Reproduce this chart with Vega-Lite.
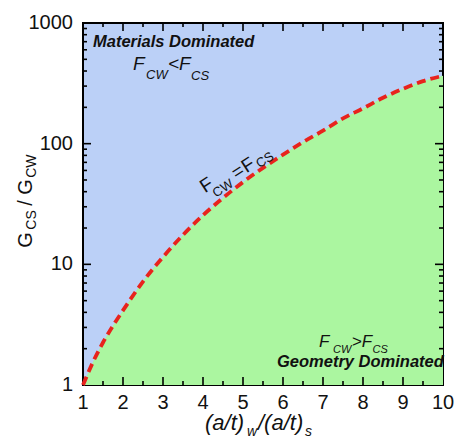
{
  "$schema": "https://vega.github.io/schema/vega-lite/v6.json",
  "width": 360,
  "height": 362,
  "autosize": "none",
  "padding": {"left": 83, "top": 23, "right": 13, "bottom": 55},
  "background": "white",
  "config": {
    "font": "Liberation Sans",
    "view": {"fill": "#bbd0f7", "stroke": "#000000", "strokeWidth": 2},
    "text": {"font": "Liberation Sans", "color": "#111111"},
    "tick": {"color": "#000000", "thickness": 1.6, "opacity": 1}
  },
  "datasets": {
    "curve": [
      {"ratio": 1, "g": 1}, {"ratio": 1.25, "g": 1.55}, {"ratio": 1.5, "g": 2.25}, {"ratio": 1.75, "g": 3.1},
      {"ratio": 2, "g": 4.15}, {"ratio": 2.5, "g": 7.2}, {"ratio": 3, "g": 11.5}, {"ratio": 3.5, "g": 17.5},
      {"ratio": 4, "g": 25.5}, {"ratio": 4.5, "g": 35.5}, {"ratio": 5, "g": 48}, {"ratio": 5.5, "g": 63},
      {"ratio": 6, "g": 81}, {"ratio": 6.5, "g": 103}, {"ratio": 7, "g": 128}, {"ratio": 7.5, "g": 162},
      {"ratio": 8, "g": 196}, {"ratio": 8.5, "g": 240}, {"ratio": 9, "g": 285}, {"ratio": 9.5, "g": 330},
      {"ratio": 10, "g": 365}
    ],
    "xTickValues": [{"v": 1}, {"v": 2}, {"v": 3}, {"v": 4}, {"v": 5}, {"v": 6}, {"v": 7}, {"v": 8}, {"v": 9}, {"v": 10}],
    "yTickValues": [{"v": 1}, {"v": 10}, {"v": 100}, {"v": 1000}],
    "xMajor": [
      {"v": 2, "edge": 1}, {"v": 3, "edge": 1}, {"v": 4, "edge": 1}, {"v": 5, "edge": 1}, {"v": 6, "edge": 1}, {"v": 7, "edge": 1}, {"v": 8, "edge": 1}, {"v": 9, "edge": 1},
      {"v": 2, "edge": 1000}, {"v": 3, "edge": 1000}, {"v": 4, "edge": 1000}, {"v": 5, "edge": 1000}, {"v": 6, "edge": 1000}, {"v": 7, "edge": 1000}, {"v": 8, "edge": 1000}, {"v": 9, "edge": 1000}
    ],
    "xMinor": [
      {"v": 1.5, "edge": 1}, {"v": 2.5, "edge": 1}, {"v": 3.5, "edge": 1}, {"v": 4.5, "edge": 1}, {"v": 5.5, "edge": 1}, {"v": 6.5, "edge": 1}, {"v": 7.5, "edge": 1}, {"v": 8.5, "edge": 1}, {"v": 9.5, "edge": 1},
      {"v": 1.5, "edge": 1000}, {"v": 2.5, "edge": 1000}, {"v": 3.5, "edge": 1000}, {"v": 4.5, "edge": 1000}, {"v": 5.5, "edge": 1000}, {"v": 6.5, "edge": 1000}, {"v": 7.5, "edge": 1000}, {"v": 8.5, "edge": 1000}, {"v": 9.5, "edge": 1000}
    ],
    "yMajor": [{"v": 10, "edge": 1}, {"v": 100, "edge": 1}, {"v": 10, "edge": 10}, {"v": 100, "edge": 10}],
    "yMinor": [
      {"v": 2, "edge": 1}, {"v": 3, "edge": 1}, {"v": 4, "edge": 1}, {"v": 5, "edge": 1}, {"v": 6, "edge": 1}, {"v": 7, "edge": 1}, {"v": 8, "edge": 1}, {"v": 9, "edge": 1},
      {"v": 20, "edge": 1}, {"v": 30, "edge": 1}, {"v": 40, "edge": 1}, {"v": 50, "edge": 1}, {"v": 60, "edge": 1}, {"v": 70, "edge": 1}, {"v": 80, "edge": 1}, {"v": 90, "edge": 1},
      {"v": 200, "edge": 1}, {"v": 300, "edge": 1}, {"v": 400, "edge": 1}, {"v": 500, "edge": 1}, {"v": 600, "edge": 1}, {"v": 700, "edge": 1}, {"v": 800, "edge": 1}, {"v": 900, "edge": 1},
      {"v": 2, "edge": 10}, {"v": 3, "edge": 10}, {"v": 4, "edge": 10}, {"v": 5, "edge": 10}, {"v": 6, "edge": 10}, {"v": 7, "edge": 10}, {"v": 8, "edge": 10}, {"v": 9, "edge": 10},
      {"v": 20, "edge": 10}, {"v": 30, "edge": 10}, {"v": 40, "edge": 10}, {"v": 50, "edge": 10}, {"v": 60, "edge": 10}, {"v": 70, "edge": 10}, {"v": 80, "edge": 10}, {"v": 90, "edge": 10},
      {"v": 200, "edge": 10}, {"v": 300, "edge": 10}, {"v": 400, "edge": 10}, {"v": 500, "edge": 10}, {"v": 600, "edge": 10}, {"v": 700, "edge": 10}, {"v": 800, "edge": 10}, {"v": 900, "edge": 10}
    ],
    "regionNames": [
      {"ratio": 1.25, "g": 635, "label": "Materials Dominated"},
      {"ratio": 5.85, "g": 1.42, "label": "Geometry Dominated"}
    ],
    "topMain": [
      {"ratio": 2.25, "g": 407, "label": "F"},
      {"ratio": 3.125, "g": 407, "label": "<F"}
    ],
    "topSub": [
      {"ratio": 2.575, "g": 343, "label": "CW"},
      {"ratio": 3.7, "g": 336, "label": "CS"}
    ],
    "bottomMain": [
      {"ratio": 6.9, "g": 2.08, "label": "F"},
      {"ratio": 7.72, "g": 2.08, "label": ">F"}
    ],
    "bottomSub": [
      {"ratio": 7.25, "g": 1.84, "label": "CW"},
      {"ratio": 8.24, "g": 1.84, "label": "CS"}
    ],
    "curveMain": [
      {"ratio": 4.09, "g": 45.4, "label": "F"},
      {"ratio": 4.875, "g": 58.5, "label": "="},
      {"ratio": 5.125, "g": 66.5, "label": "F"}
    ],
    "curveSub": [
      {"ratio": 4.5, "g": 42.6, "label": "CW"},
      {"ratio": 5.55, "g": 73.1, "label": "CS"}
    ],
    "yTitleMain": [
      {"ratio": -0.425, "g": 15.9, "label": "G"},
      {"ratio": -0.425, "g": 32.2, "label": "/"},
      {"ratio": -0.425, "g": 43.7, "label": "G"}
    ],
    "yTitleSub": [
      {"ratio": -0.275, "g": 23.3, "label": "CS"},
      {"ratio": -0.275, "g": 65.2, "label": "CW"}
    ],
    "xTitleMain": [
      {"ratio": 4.05, "g": 0.424, "label": "(a/t)"},
      {"ratio": 5.375, "g": 0.424, "label": "/(a/t)"}
    ],
    "xTitleSub": [
      {"ratio": 5.1, "g": 0.378, "label": "w"},
      {"ratio": 6.55, "g": 0.378, "label": "s"}
    ]
  },
  "layer": [
    {
      "data": {"name": "curve"},
      "mark": {"type": "area", "color": "#abf6a0", "interpolate": "monotone"},
      "encoding": {
        "x": {"field": "ratio", "type": "quantitative", "scale": {"domain": [1, 10], "nice": false, "zero": false}, "axis": null},
        "y": {"field": "g", "type": "quantitative", "scale": {"type": "log", "domain": [1, 1000], "nice": false}, "axis": null},
        "y2": {"datum": 1}
      }
    },
    {
      "data": {"name": "curve"},
      "mark": {"type": "line", "color": "#e8231d", "strokeWidth": 3.8, "strokeDash": [9, 5], "interpolate": "monotone"},
      "encoding": {
        "x": {"field": "ratio", "type": "quantitative", "scale": {"domain": [1, 10], "nice": false, "zero": false}, "axis": null},
        "y": {"field": "g", "type": "quantitative", "scale": {"type": "log", "domain": [1, 1000], "nice": false}, "axis": null}
      }
    },
    {
      "data": {"name": "xMajor"},
      "mark": {"type": "tick", "orient": "vertical", "size": 16, "clip": true},
      "encoding": {
        "x": {"field": "v", "type": "quantitative", "scale": {"domain": [1, 10], "nice": false, "zero": false}, "axis": null},
        "y": {"field": "edge", "type": "quantitative", "scale": {"type": "log", "domain": [1, 1000], "nice": false}, "axis": null}
      }
    },
    {
      "data": {"name": "xMinor"},
      "mark": {"type": "tick", "orient": "vertical", "size": 8, "clip": true},
      "encoding": {
        "x": {"field": "v", "type": "quantitative", "scale": {"domain": [1, 10], "nice": false, "zero": false}, "axis": null},
        "y": {"field": "edge", "type": "quantitative", "scale": {"type": "log", "domain": [1, 1000], "nice": false}, "axis": null}
      }
    },
    {
      "data": {"name": "yMajor"},
      "mark": {"type": "tick", "orient": "horizontal", "size": 16, "clip": true},
      "encoding": {
        "y": {"field": "v", "type": "quantitative", "scale": {"type": "log", "domain": [1, 1000], "nice": false}, "axis": null},
        "x": {"field": "edge", "type": "quantitative", "scale": {"domain": [1, 10], "nice": false, "zero": false}, "axis": null}
      }
    },
    {
      "data": {"name": "yMinor"},
      "mark": {"type": "tick", "orient": "horizontal", "size": 8, "clip": true},
      "encoding": {
        "y": {"field": "v", "type": "quantitative", "scale": {"type": "log", "domain": [1, 1000], "nice": false}, "axis": null},
        "x": {"field": "edge", "type": "quantitative", "scale": {"domain": [1, 10], "nice": false, "zero": false}, "axis": null}
      }
    },
    {
      "data": {"name": "xTickValues"},
      "mark": {"type": "text", "fontSize": 20, "align": "center", "baseline": "top", "dy": 8},
      "encoding": {
        "x": {"field": "v", "type": "quantitative", "scale": {"domain": [1, 10], "nice": false, "zero": false}, "axis": null},
        "y": {"datum": 1, "type": "quantitative", "scale": {"type": "log", "domain": [1, 1000], "nice": false}, "axis": null},
        "text": {"field": "v", "type": "quantitative", "format": "d"}
      }
    },
    {
      "data": {"name": "yTickValues"},
      "mark": {"type": "text", "fontSize": 20, "align": "right", "baseline": "middle", "dx": -10},
      "encoding": {
        "x": {"datum": 1, "type": "quantitative", "scale": {"domain": [1, 10], "nice": false, "zero": false}, "axis": null},
        "y": {"field": "v", "type": "quantitative", "scale": {"type": "log", "domain": [1, 1000], "nice": false}, "axis": null},
        "text": {"field": "v", "type": "quantitative", "format": "d"}
      }
    },
    {
      "data": {"name": "regionNames"},
      "mark": {"type": "text", "fontSize": 16.5, "fontWeight": "bold", "fontStyle": "italic", "align": "left", "baseline": "alphabetic"},
      "encoding": {
        "x": {"field": "ratio", "type": "quantitative", "scale": {"domain": [1, 10], "nice": false, "zero": false}, "axis": null},
        "y": {"field": "g", "type": "quantitative", "scale": {"type": "log", "domain": [1, 1000], "nice": false}, "axis": null},
        "text": {"field": "label"}
      }
    },
    {
      "data": {"name": "topMain"},
      "mark": {"type": "text", "fontSize": 19, "fontStyle": "italic", "align": "left", "baseline": "alphabetic"},
      "encoding": {
        "x": {"field": "ratio", "type": "quantitative", "scale": {"domain": [1, 10], "nice": false, "zero": false}, "axis": null},
        "y": {"field": "g", "type": "quantitative", "scale": {"type": "log", "domain": [1, 1000], "nice": false}, "axis": null},
        "text": {"field": "label"}
      }
    },
    {
      "data": {"name": "topSub"},
      "mark": {"type": "text", "fontSize": 13, "fontStyle": "italic", "align": "left", "baseline": "alphabetic"},
      "encoding": {
        "x": {"field": "ratio", "type": "quantitative", "scale": {"domain": [1, 10], "nice": false, "zero": false}, "axis": null},
        "y": {"field": "g", "type": "quantitative", "scale": {"type": "log", "domain": [1, 1000], "nice": false}, "axis": null},
        "text": {"field": "label"}
      }
    },
    {
      "data": {"name": "bottomMain"},
      "mark": {"type": "text", "fontSize": 17, "fontStyle": "italic", "align": "left", "baseline": "alphabetic"},
      "encoding": {
        "x": {"field": "ratio", "type": "quantitative", "scale": {"domain": [1, 10], "nice": false, "zero": false}, "axis": null},
        "y": {"field": "g", "type": "quantitative", "scale": {"type": "log", "domain": [1, 1000], "nice": false}, "axis": null},
        "text": {"field": "label"}
      }
    },
    {
      "data": {"name": "bottomSub"},
      "mark": {"type": "text", "fontSize": 11, "fontStyle": "italic", "align": "left", "baseline": "alphabetic"},
      "encoding": {
        "x": {"field": "ratio", "type": "quantitative", "scale": {"domain": [1, 10], "nice": false, "zero": false}, "axis": null},
        "y": {"field": "g", "type": "quantitative", "scale": {"type": "log", "domain": [1, 1000], "nice": false}, "axis": null},
        "text": {"field": "label"}
      }
    },
    {
      "data": {"name": "curveMain"},
      "mark": {"type": "text", "fontSize": 19, "angle": -33, "align": "center", "baseline": "middle"},
      "encoding": {
        "x": {"field": "ratio", "type": "quantitative", "scale": {"domain": [1, 10], "nice": false, "zero": false}, "axis": null},
        "y": {"field": "g", "type": "quantitative", "scale": {"type": "log", "domain": [1, 1000], "nice": false}, "axis": null},
        "text": {"field": "label"}
      }
    },
    {
      "data": {"name": "curveSub"},
      "mark": {"type": "text", "fontSize": 13, "angle": -33, "align": "center", "baseline": "middle"},
      "encoding": {
        "x": {"field": "ratio", "type": "quantitative", "scale": {"domain": [1, 10], "nice": false, "zero": false}, "axis": null},
        "y": {"field": "g", "type": "quantitative", "scale": {"type": "log", "domain": [1, 1000], "nice": false}, "axis": null},
        "text": {"field": "label"}
      }
    },
    {
      "data": {"name": "yTitleMain"},
      "mark": {"type": "text", "fontSize": 20, "angle": 270, "align": "center", "baseline": "middle"},
      "encoding": {
        "x": {"field": "ratio", "type": "quantitative", "scale": {"domain": [1, 10], "nice": false, "zero": false}, "axis": null},
        "y": {"field": "g", "type": "quantitative", "scale": {"type": "log", "domain": [1, 1000], "nice": false}, "axis": null},
        "text": {"field": "label"}
      }
    },
    {
      "data": {"name": "yTitleSub"},
      "mark": {"type": "text", "fontSize": 14, "angle": 270, "align": "center", "baseline": "middle"},
      "encoding": {
        "x": {"field": "ratio", "type": "quantitative", "scale": {"domain": [1, 10], "nice": false, "zero": false}, "axis": null},
        "y": {"field": "g", "type": "quantitative", "scale": {"type": "log", "domain": [1, 1000], "nice": false}, "axis": null},
        "text": {"field": "label"}
      }
    },
    {
      "data": {"name": "xTitleMain"},
      "mark": {"type": "text", "fontSize": 22, "fontStyle": "italic", "align": "left", "baseline": "alphabetic"},
      "encoding": {
        "x": {"field": "ratio", "type": "quantitative", "scale": {"domain": [1, 10], "nice": false, "zero": false}, "axis": null},
        "y": {"field": "g", "type": "quantitative", "scale": {"type": "log", "domain": [1, 1000], "nice": false}, "axis": null},
        "text": {"field": "label"}
      }
    },
    {
      "data": {"name": "xTitleSub"},
      "mark": {"type": "text", "fontSize": 14, "fontStyle": "italic", "align": "left", "baseline": "alphabetic"},
      "encoding": {
        "x": {"field": "ratio", "type": "quantitative", "scale": {"domain": [1, 10], "nice": false, "zero": false}, "axis": null},
        "y": {"field": "g", "type": "quantitative", "scale": {"type": "log", "domain": [1, 1000], "nice": false}, "axis": null},
        "text": {"field": "label"}
      }
    }
  ]
}
